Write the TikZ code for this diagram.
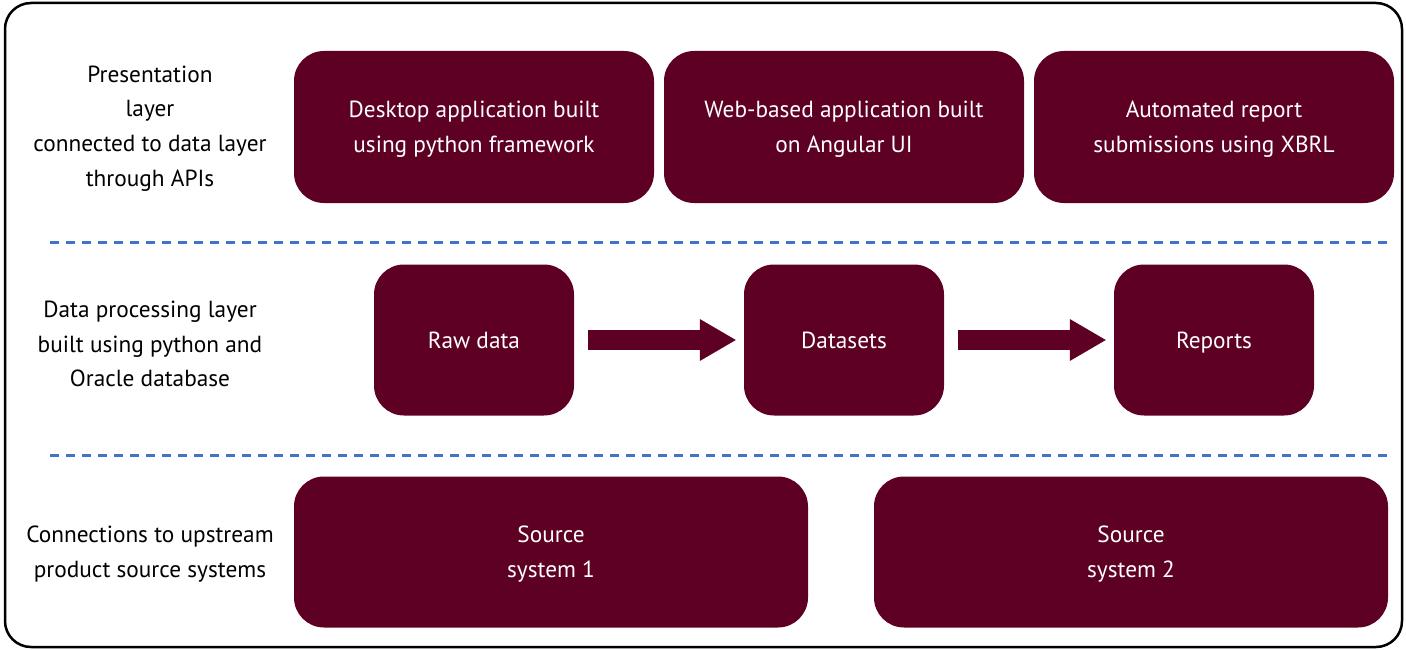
\documentclass[tikz,border=0pt]{standalone}
\usepackage{fontspec}
\setmainfont{PT Sans}
\usepackage{tikz}
\usetikzlibrary{arrows.meta,calc}

\definecolor{maroon}{HTML}{5E0023}
\definecolor{dashblue}{HTML}{4472C4}

\begin{document}
\begin{tikzpicture}[x=1pt, y=-1pt,
	box/.style={fill=maroon, rounded corners=30pt, text=white, align=center,
		font=\fontsize{23.3}{34.7}\selectfont, inner sep=0pt, text depth=0pt},
	layer/.style={align=center, font=\fontsize{23.3}{34.7}\selectfont, text depth=0pt},
	sep/.style={dashblue, line width=2.5pt, dash pattern=on 9pt off 7pt},
	blockarrow/.style={maroon, line width=20pt,
		-{Triangle[length=36pt, width=42pt, line width=0pt]}}]
	\useasboundingbox (0,0) rectangle (1406,650);

	% Outer frame
	\draw[line width=2.5pt, rounded corners=26pt] (5,3) rectangle (1402,647);

	% Layer separators
	\draw[sep] (50,242.5) -- (1390,242.5);
	\draw[sep] (50,455.5) -- (1390,455.5);

	% Layer labels
	\node[layer] (lpres) at (150,126) {Presentation\\layer\\connected to data layer\\through APIs};
	\node[layer] (lproc) at (150,344) {Data processing layer\\built using python and\\Oracle database};
	\node[layer] (lconn) at (150,552) {Connections to upstream\\product source systems};

	% Presentation layer
	\node[box, minimum width=360pt, minimum height=152pt] (desktop) at (474,127)
		{Desktop application built\\using python framework};
	\node[box, minimum width=360pt, minimum height=152pt] (web) at (844,127)
		{Web-based application built\\on Angular UI};
	\node[box, minimum width=360pt, minimum height=152pt] (xbrl) at (1214,127)
		{Automated report\\submissions using XBRL};

	% Data processing layer
	\node[box, minimum width=200pt, minimum height=151pt] (raw) at (474,340)
		{Raw data};
	\node[box, minimum width=200pt, minimum height=151pt] (datasets) at (844,340)
		{Datasets};
	\node[box, minimum width=200pt, minimum height=151pt] (reports) at (1214,340)
		{Reports};
	\draw[blockarrow, shorten <=14pt, shorten >=8pt] (raw) -- (datasets);
	\draw[blockarrow, shorten <=14pt, shorten >=8pt] (datasets) -- (reports);

	% Source systems
	\node[box, minimum width=514pt, minimum height=151pt] (src1) at (551,552)
		{Source\\system 1};
	\node[box, minimum width=514pt, minimum height=151pt] (src2) at (1131,552)
		{Source\\system 2};

\end{tikzpicture}
\end{document}
